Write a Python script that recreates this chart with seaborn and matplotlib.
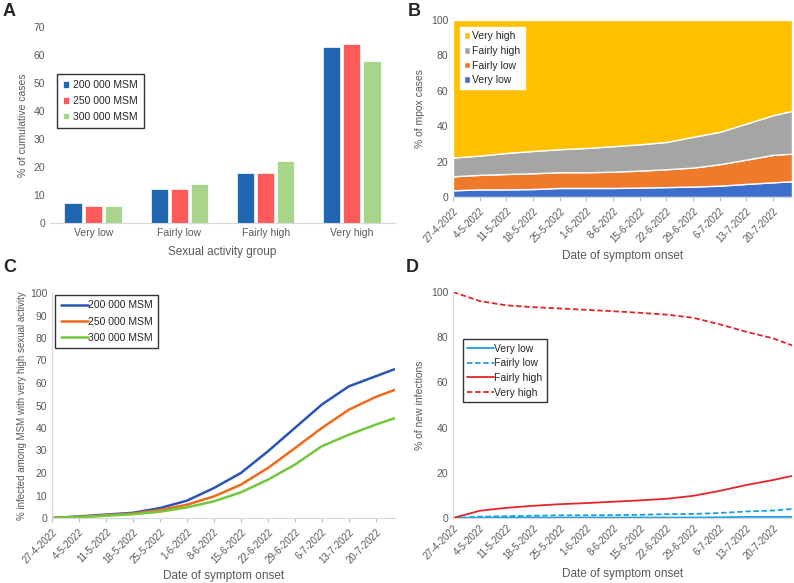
import pandas as pd
import numpy as np
import seaborn as sns
import matplotlib.pyplot as plt

sns.set_style("white")
plt.rcParams['font.family'] = ['Liberation Sans', 'DejaVu Sans']

# ---- data ----
# A: cumulative cases by sexual activity group
groups = ['Very low', 'Fairly low', 'Fairly high', 'Very high']
scenarios = ['200 000 MSM', '250 000 MSM', '300 000 MSM']
pct_200k = [7, 12, 18, 63]
pct_250k = [6, 12, 18, 64]
pct_300k = [6, 14, 22, 58]

# shared date axis (weekly readings + last day)
date_strs = ['27-4-2022', '4-5-2022', '11-5-2022', '18-5-2022', '25-5-2022', '1-6-2022',
             '8-6-2022', '15-6-2022', '22-6-2022', '29-6-2022', '6-7-2022', '13-7-2022',
             '20-7-2022', '25-7-2022']
tick_labels = date_strs[:-1]

# B: share of mpox cases by group
b_very_low = [3.8, 4.3, 4.3, 4.5, 5.1, 5.1, 5.1, 5.3, 5.6, 5.9, 6.4, 7.4, 8.3, 8.9]
b_fairly_low = [7.9, 8.2, 8.7, 8.9, 8.9, 8.9, 9.2, 9.6, 10.1, 10.7, 12.1, 13.7, 15.5, 15.6]
b_fairly_high = [10.6, 10.9, 11.9, 12.6, 13.0, 13.7, 14.4, 14.9, 15.4, 17.4, 18.3, 20.4, 22.4, 24.2]
b_very_high = [77.7, 76.6, 75.1, 74.0, 73.0, 72.3, 71.3, 70.2, 68.9, 66.0, 63.2, 58.5, 53.8, 51.3]

# C: % infected among very high activity MSM
c_200k = [0, 0.7, 1.5, 2.3, 4.4, 7.7, 13.3, 20.0, 29.6, 40.0, 50.4, 58.5, 63.0, 66.2]
c_250k = [0, 0.5, 1.2, 2.0, 3.5, 5.9, 9.6, 14.8, 22.2, 31.0, 40.0, 48.1, 53.8, 57.0]
c_300k = [0, 0.4, 1.0, 1.7, 2.8, 4.7, 7.4, 11.4, 17.0, 23.7, 31.9, 37.0, 41.5, 44.4]

# D: % of new infections by group
d_very_low = [0, 0.1, 0.2, 0.2, 0.2, 0.2, 0.2, 0.2, 0.2, 0.2, 0.3, 0.5, 0.5, 0.5]
d_fairly_low = [0, 0.6, 0.8, 1.0, 1.2, 1.2, 1.3, 1.4, 1.7, 1.8, 2.2, 2.9, 3.3, 4.0]
d_fairly_high = [0, 3.2, 4.5, 5.4, 6.1, 6.6, 7.2, 7.8, 8.5, 9.8, 12.0, 14.6, 16.8, 18.6]
d_very_high = [100, 96.0, 94.1, 93.3, 92.7, 92.1, 91.5, 90.8, 90.0, 88.6, 85.7, 82.4, 79.5, 76.4]

dates = pd.to_datetime(date_strs, format='%d-%m-%Y')
tick_dates = dates[:-1]

TXT = '#595959'
AX = '#D9D9D9'

fig = plt.figure(figsize=(7.94, 5.83), dpi=100)
W, H = 794, 583


def px_axes(x0, y0, x1, y1):
    return fig.add_axes([x0 / W, 1 - y1 / H, (x1 - x0) / W, (y1 - y0) / H])


def date_axis(ax, pad):
    ax.set_xlim(dates[0], dates[-1])
    ax.set_xticks(tick_dates)
    ax.set_xticklabels(tick_labels, rotation=45, ha='right', rotation_mode='anchor',
                       fontsize=7, color=TXT)
    ax.set_xlabel('Date of symptom onset', fontsize=8.5, color=TXT, labelpad=pad)


# ---- A ----
axA = px_axes(50, 27, 395, 223)
dfA = pd.DataFrame({'group': groups * 3,
                    'scenario': np.repeat(scenarios, len(groups)),
                    'pct': pct_200k + pct_250k + pct_300k})
sns.barplot(data=dfA, x='group', y='pct', hue='scenario', ax=axA,
            palette=['#2166B0', '#FF5A5A', '#A8D58B'], width=0.7, gap=0.15,
            saturation=1, edgecolor='white', linewidth=0.5)
axA.set_ylim(0, 70)
axA.set_yticks(range(0, 71, 10))
axA.set_xlim(-0.5, 3.5)
axA.set_ylabel('% of cumulative cases', fontsize=7.5, color=TXT)
axA.set_xlabel('Sexual activity group', fontsize=8.5, color=TXT, labelpad=6)
axA.tick_params(axis='both', labelsize=7.5, labelcolor=TXT, length=0)
for s in ['top', 'right', 'left']:
    axA.spines[s].set_visible(False)
axA.spines['bottom'].set_color(AX)
legA = axA.legend(loc='upper left', bbox_to_anchor=(0.02, 0.76), fontsize=7.5,
                  frameon=True, fancybox=False, edgecolor='black', borderaxespad=0,
                  handlelength=0.6, handleheight=0.6, handletextpad=0.3,
                  labelspacing=0.55, borderpad=0.6)
legA.get_frame().set_linewidth(1)

# ---- B ----
axB = px_axes(453, 20, 792, 197)
axB.stackplot(dates, b_very_low, b_fairly_low, b_fairly_high, b_very_high,
              colors=['#3B6FCB', '#F07A2B', '#A5A5A5', '#FFC000'],
              labels=['Very low', 'Fairly low', 'Fairly high', 'Very high'])
axB.set_ylim(0, 100)
axB.set_yticks(range(0, 101, 20))
date_axis(axB, 4)
axB.set_ylabel('% of mpox cases', fontsize=7.5, color=TXT)
axB.tick_params(axis='y', labelsize=7.5, labelcolor=TXT, length=0)
axB.tick_params(axis='x', length=3, color='#BFBFBF', bottom=True, direction='out')
for s in ['top', 'right', 'left']:
    axB.spines[s].set_visible(False)
axB.spines['bottom'].set_color(AX)
h, l = axB.get_legend_handles_labels()
axB.legend(h[::-1], l[::-1], loc='upper left', bbox_to_anchor=(0.02, 0.96), fontsize=7.5,
           frameon=True, fancybox=False, edgecolor='white', framealpha=1, borderaxespad=0,
           handlelength=0.6, handleheight=0.6, handletextpad=0.2, labelspacing=0.45,
           borderpad=0.4)

# ---- C ----
axC = px_axes(52, 293, 395, 518)
dfC = pd.DataFrame({'date': np.tile(dates, 3),
                    'pct': c_200k + c_250k + c_300k,
                    'scenario': np.repeat(scenarios, len(dates))})
sns.lineplot(data=dfC, x='date', y='pct', hue='scenario', ax=axC,
             palette=['#2A55B5', '#F06A1C', '#72C73C'], linewidth=1.8)
axC.set_ylim(0, 100)
axC.set_yticks(range(0, 101, 10))
date_axis(axC, 3)
axC.set_ylabel('% infected among MSM with very high sexual activity', fontsize=7, color=TXT,
               labelpad=2)
axC.tick_params(axis='y', labelsize=7.5, labelcolor=TXT, length=0)
axC.tick_params(axis='x', length=3, color='#BFBFBF', bottom=True, direction='out')
for s in ['top', 'right']:
    axC.spines[s].set_visible(False)
axC.spines['left'].set_color(AX)
axC.spines['bottom'].set_color(AX)
legC = axC.legend(title=None, loc='upper left', bbox_to_anchor=(0.01, 0.99), fontsize=7.5,
                  frameon=True, fancybox=False, edgecolor='black', borderaxespad=0,
                  handlelength=2.6, handletextpad=0.0, labelspacing=0.6, borderpad=0.5)
legC.get_frame().set_linewidth(1)

# ---- D ----
axD = px_axes(453, 292, 792, 518)
d_labels = ['Very low', 'Fairly low', 'Fairly high', 'Very high']
dfD = pd.DataFrame({'date': np.tile(dates, 4),
                    'pct': d_very_low + d_fairly_low + d_fairly_high + d_very_high,
                    'group': np.repeat(d_labels, len(dates))})
sns.lineplot(data=dfD, x='date', y='pct', hue='group', style='group', ax=axD,
             palette=['#1B9FE0', '#1B9FE0', '#E3262B', '#E3262B'],
             dashes=[(None, None), (3, 1.5), (None, None), (3, 1.5)], linewidth=1.3)
axD.set_ylim(0, 100)
axD.set_yticks(range(0, 101, 20))
date_axis(axD, 5)
axD.set_ylabel('% of new infections', fontsize=7.5, color=TXT)
axD.tick_params(axis='both', labelsize=7.5, labelcolor=TXT, length=0)
axD.tick_params(axis='x', labelsize=7)
for s in ['top', 'right']:
    axD.spines[s].set_visible(False)
axD.spines['left'].set_color(AX)
axD.spines['bottom'].set_color(AX)
legD = axD.legend(title=None, loc='upper left', bbox_to_anchor=(0.03, 0.79), fontsize=7.5,
                  frameon=True, fancybox=False, edgecolor='black', borderaxespad=0,
                  handlelength=2.6, handletextpad=0.0, labelspacing=0.45, borderpad=0.4)
legD.get_frame().set_linewidth(1)

# panel letters
for lbl, x, y in [('A', 3, 12), ('B', 408, 11), ('C', 3, 267), ('D', 406, 268)]:
    fig.text(x / W, 1 - y / H, lbl, fontsize=13, fontweight='bold', va='center', ha='left')

fig.savefig('out.png', dpi=100)
